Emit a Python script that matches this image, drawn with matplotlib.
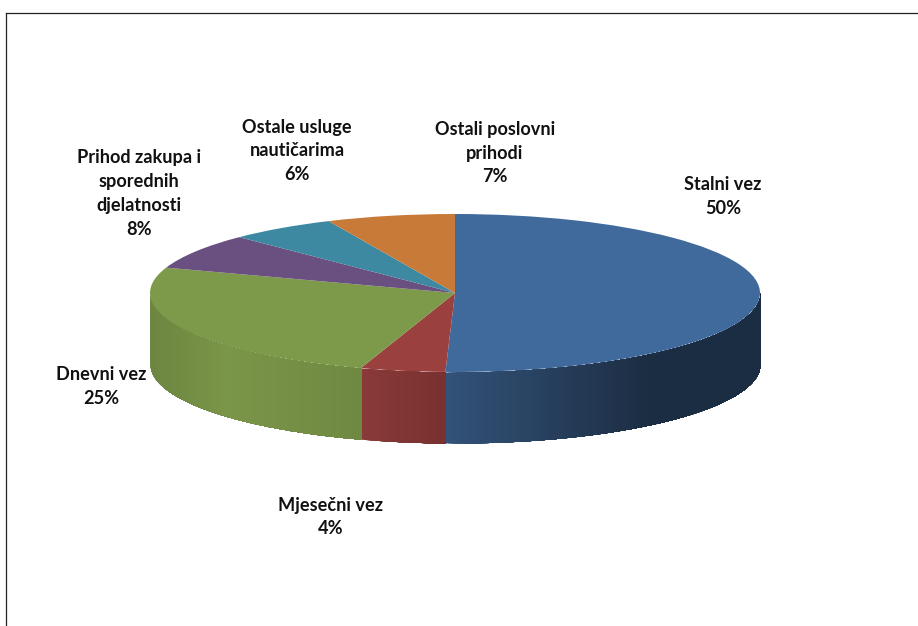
import numpy as np
import matplotlib
matplotlib.use("Agg")
import matplotlib.pyplot as plt
from matplotlib.lines import Line2D

W, H = 918, 626
categories = ["Stalni vez", "Mjesečni vez", "Dnevni vez",
              "Prihod zakupa i\nsporednih\ndjelatnosti", "Ostale usluge\nnautičarima",
              "Ostali poslovni\nprihodi"]
shares = [50.5, 4.5, 25.2, 7.3, 5.7, 6.8]     # drawn slice sizes
labels_pct = ["50%", "4%", "25%", "8%", "6%", "7%"]
colors = ["#416A9C", "#9A403E", "#7D994A", "#6A5081", "#3D89A1", "#C87A38"]

cx, cy, rx, ry, depth = 455, 293, 305, 79, 71
fig = plt.figure(figsize=(W / 100, H / 100), dpi=100, facecolor="white")
ax = fig.add_axes([(cx - rx) / W, 1 - (cy + ry + depth) / H, 2 * rx / W, (2 * ry + depth) / H])

wedges, _ = ax.pie(shares, colors=colors, startangle=90, counterclock=False, radius=1,
                   wedgeprops=dict(linewidth=0, edgecolor="none", zorder=5))
ax.set_aspect("auto")
dy = depth / ry
ax.set_xlim(-1, 1)
ax.set_ylim(-1 - dy, 1)
ax.axis("off")

# side wall: shading depends on horizontal position
sx = [-1.0, -0.75, -0.30, 0.0, 0.64, 1.0]
sf = [0.87, 0.98, 0.89, 0.76, 0.42, 0.42]
edges = 90 - np.cumsum([0] + shares) * 3.6
z = 3.0
for color, a0, a1 in zip(colors, edges[:-1], edges[1:]):
    base = np.array(matplotlib.colors.to_rgb(color))
    # visible (front) part of this slice: angles between -180 and 0 degrees
    lo, hi = max(a1, -180.0), min(a0, 0.0)
    if hi <= lo:
        continue
    th = np.linspace(lo, hi, max(2, int((hi - lo) * 2) + 1))
    for i in range(len(th) - 1):
        # each strip runs on to the slice's end, so no gaps show between strips
        tt = np.radians(np.linspace(th[i], hi, max(2, len(th) - i)))
        x, y = np.cos(tt), np.sin(tt)
        f = np.interp(np.cos(np.radians(th[i])), sx, sf)
        z += 1e-4
        ax.fill_between(x, y, y - dy, color=np.clip(base * f, 0, 1), linewidth=0,
                        zorder=min(z, 4.9), clip_on=False)

# data labels
pos = [(723, 196), (331, 517), (101, 387), (139, 194), (297, 151), (495, 153)]
for cat, pct, (px, py) in zip(categories, labels_pct, pos):
    fig.text(px / W, 1 - py / H, f"{cat}\n{pct}", ha="center", va="center", family="Lato",
             fontweight="bold", fontsize=13.1, color="#111111", linespacing=1.5)

# frame fragments
fig.add_artist(Line2D([6 / W, 1], [1 - 12.5 / H, 1 - 12.5 / H], color="#222222", lw=0.9))
fig.add_artist(Line2D([6.3 / W, 6.3 / W], [0, 1 - 12.5 / H], color="#222222", lw=0.9))

fig.savefig("out.png", dpi=100, facecolor="white")
